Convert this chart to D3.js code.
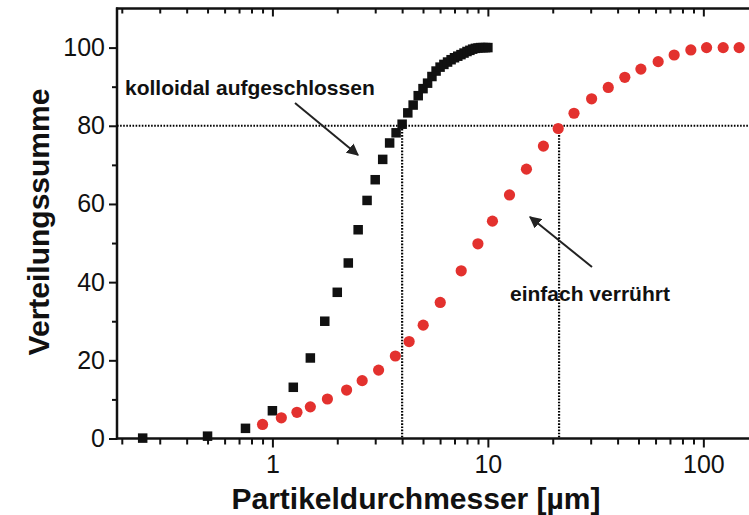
<!DOCTYPE html>
<html>
<head>
<meta charset="utf-8">
<script src="https://cdn.jsdelivr.net/npm/d3@7"></script>
<style>
  body { margin: 0; background: #fff; }
  svg { display: block; font-family: "Liberation Sans", Arial, sans-serif; }
</style>
</head>
<body>
<svg id="chart" width="749" height="515"></svg>
<script>
// kolloidal aufgeschlossen (Quadrate)
const kolloidalD = [0.25, 0.5, 0.75, 1.0, 1.25, 1.5, 1.75, 2.0, 2.25, 2.5, 2.75, 3.0, 3.25, 3.5,
  3.75, 4.0, 4.25, 4.5, 4.75, 5.0, 5.25, 5.5, 5.75, 6.0, 6.25, 6.5, 6.75, 7.0, 7.25, 7.5,
  7.75, 8.0, 8.25, 8.5, 8.75, 9.0, 9.25, 9.5, 9.75, 10.0];
const kolloidalSumme = [0.1, 0.6, 2.6, 7.1, 13.1, 20.6, 30.0, 37.4, 44.9, 53.4, 60.9, 66.2, 71.4, 75.6,
  78.2, 80.4, 83.3, 85.3, 87.7, 89.5, 90.9, 92.6, 94.0, 95.0, 95.7, 96.3, 96.9, 97.4, 97.8, 98.2,
  98.6, 99.0, 99.3, 99.6, 99.8, 99.9, 100, 100, 100, 100];

// einfach verrührt (Kreise)
const verruehrtD = [0.90, 1.10, 1.30, 1.50, 1.80, 2.21, 2.61, 3.11, 3.72, 4.31, 5.01, 6.01, 7.52, 8.99,
  10.5, 12.6, 15.1, 18.1, 21.2, 25.1, 30.3, 36.2, 43.2, 51.3, 61.7, 73.2, 87.5, 103.5, 123.6, 146.6];
const verruehrtSumme = [3.6, 5.3, 6.7, 8.1, 10.1, 12.4, 14.8, 17.5, 21.1, 24.8, 29.0, 34.8, 42.9, 49.8,
  55.6, 62.3, 68.9, 74.8, 79.3, 83.2, 86.9, 89.8, 92.4, 94.5, 96.4, 98.1, 99.4, 100, 100, 100];

// d80-Markierungen
const d80Level = 80;
const d80Werte = [4.0, 21.4];

const xMajor = [1, 10, 100];
const xMinor = [0.2, 0.3, 0.4, 0.5, 0.6, 0.7, 0.8, 0.9, 2, 3, 4, 5, 6, 7, 8, 9,
  20, 30, 40, 50, 60, 70, 80, 90];
const yMajor = [0, 20, 40, 60, 80, 100];
const yMinor = [10, 30, 50, 70, 90];

const svg = d3.select("#chart");

const x = d3.scaleLog().domain([0.19, 170]).range([117, 753]);
const y = d3.scaleLinear().domain([0, 110]).range([438.5, 8.5]);

const frame = svg.append("g");

// --- Achsen ---
frame.append("g").attr("transform", `translate(0,${y(0)})`)
  .call(d3.axisBottom(x).tickValues(xMinor).tickSize(6).tickFormat(""));
frame.append("g").attr("transform", `translate(0,${y(0)})`)
  .call(d3.axisBottom(x).tickValues(xMajor).tickSize(9).tickPadding(8).tickFormat(d3.format("d")));

frame.append("g").attr("transform", `translate(0,${y(110)})`)
  .call(d3.axisBottom(x).tickValues(xMinor).tickSize(5).tickFormat(""));
frame.append("g").attr("transform", `translate(0,${y(110)})`)
  .call(d3.axisBottom(x).tickValues(xMajor).tickSize(8).tickFormat(""));

frame.append("g").attr("transform", "translate(117,0)")
  .call(d3.axisLeft(y).tickValues(yMinor).tickSize(5).tickFormat(""));
frame.append("g").attr("transform", "translate(117,0)")
  .call(d3.axisLeft(y).tickValues(yMajor).tickSize(8).tickPadding(4));

frame.selectAll(".domain").remove();
frame.selectAll(".tick line").attr("stroke", "#111").attr("stroke-width", 2);
frame.selectAll(".tick text").attr("fill", "#111").style("font-size", "25px")
  .style("font-family", "'Liberation Sans', Arial, sans-serif");

// Rahmenlinien
frame.append("line").attr("x1", 117).attr("x2", 117).attr("y1", y(110) - 1).attr("y2", y(0) + 1)
  .attr("stroke", "#111").attr("stroke-width", 2.5);
frame.append("line").attr("x1", 116).attr("x2", 753).attr("y1", y(0)).attr("y2", y(0))
  .attr("stroke", "#111").attr("stroke-width", 2.5);
frame.append("line").attr("x1", 116).attr("x2", 753).attr("y1", y(110)).attr("y2", y(110))
  .attr("stroke", "#111").attr("stroke-width", 2.5);

// --- gepunktete Hilfslinien ---
const dots = svg.append("g").attr("stroke", "#000").attr("stroke-width", 2.2)
  .attr("stroke-dasharray", "1.6,1.5").attr("fill", "none");
dots.append("line").attr("x1", x.range()[0]).attr("x2", x.range()[1])
  .attr("y1", y(d80Level)).attr("y2", y(d80Level));
dots.selectAll(".vline").data(d80Werte).join("line").attr("class", "vline")
  .attr("x1", d => x(d)).attr("x2", d => x(d))
  .attr("y1", y(d80Level)).attr("y2", y(0));

// --- Daten ---
const kolloidal = kolloidalD.map((d, i) => ({ d, v: kolloidalSumme[i] }));
const verruehrt = verruehrtD.map((d, i) => ({ d, v: verruehrtSumme[i] }));

const sq = 9.5;
svg.append("g").selectAll("rect").data(kolloidal).join("rect")
  .attr("x", p => x(p.d) - sq / 2).attr("y", p => y(p.v) - sq / 2)
  .attr("width", sq).attr("height", sq).attr("fill", "#111");

svg.append("g").selectAll("circle").data(verruehrt).join("circle")
  .attr("cx", p => x(p.d)).attr("cy", p => y(p.v)).attr("r", 5.6)
  .attr("fill", "#e3312e");

// --- Beschriftungen ---
svg.append("defs").append("marker").attr("id", "pfeil")
  .attr("viewBox", "0 0 10 10").attr("refX", 9).attr("refY", 5)
  .attr("markerWidth", 6).attr("markerHeight", 6).attr("markerUnits", "strokeWidth")
  .attr("orient", "auto")
  .append("path").attr("d", "M0,0 L10,5 L0,10 z").attr("fill", "#222");

svg.append("text").attr("x", 125).attr("y", 95)
  .attr("font-weight", "bold").attr("font-size", 21).attr("fill", "#111")
  .text("kolloidal aufgeschlossen");
svg.append("line").attr("x1", 295).attr("y1", 103).attr("x2", 358).attr("y2", 155)
  .attr("stroke", "#222").attr("stroke-width", 2).attr("marker-end", "url(#pfeil)");

svg.append("text").attr("x", 510).attr("y", 301)
  .attr("font-weight", "bold").attr("font-size", 21).attr("fill", "#111")
  .text("einfach verrührt");
svg.append("line").attr("x1", 592).attr("y1", 267).attr("x2", 530).attr("y2", 217)
  .attr("stroke", "#222").attr("stroke-width", 2).attr("marker-end", "url(#pfeil)");

svg.append("text").attr("transform", "translate(49,222) rotate(-90)")
  .attr("text-anchor", "middle").attr("font-weight", "bold").attr("font-size", 30).attr("fill", "#111")
  .text("Verteilungssumme");

svg.append("text").attr("x", 416).attr("y", 509)
  .attr("text-anchor", "middle").attr("font-weight", "bold").attr("font-size", 30).attr("fill", "#111")
  .text("Partikeldurchmesser [µm]");
</script>
</body>
</html>
